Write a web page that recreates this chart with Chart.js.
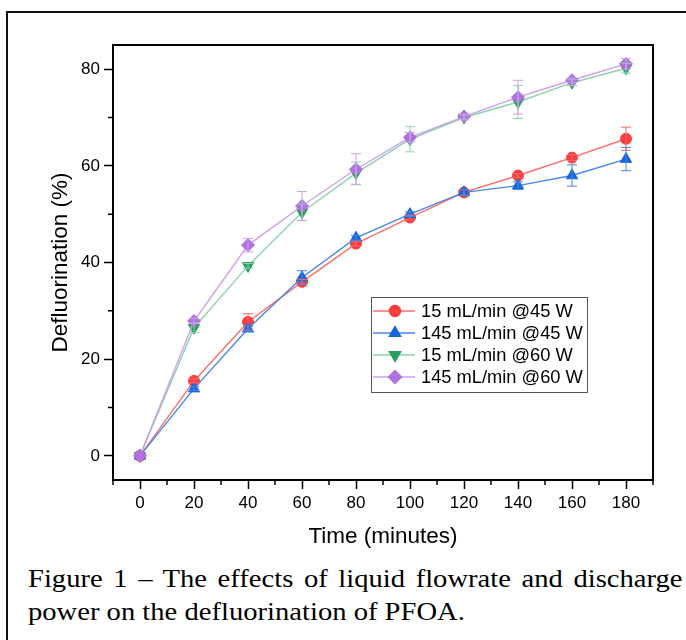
<!DOCTYPE html>
<html>
<head>
<meta charset="utf-8">
<script src="https://cdn.jsdelivr.net/npm/chart.js@4.4.0/dist/chart.umd.min.js"></script>
<style>
  html, body { margin: 0; padding: 0; background: #fff; }
  body { width: 686px; height: 640px; overflow: hidden; position: relative; }
  .frame {
    position: absolute; left: 6px; top: 11px; width: 720px; height: 700px;
    border: 2px solid #111; box-sizing: border-box;
  }
  .chart-box { position: absolute; left: 0; top: 0; width: 686px; height: 560px; }
  .caption {
    position: absolute; left: 28px; top: 562px; width: 595px;
    font-family: "Liberation Serif", "Times New Roman", serif;
    font-size: 26px; line-height: 33px; color: #000;
    text-align: justify; transform: scaleX(1.1); transform-origin: 0 0;
  }
</style>
</head>
<body>
<div class="frame"></div>
<div class="chart-box"><canvas id="defluorChart" width="686" height="560"></canvas></div>
<div class="caption">Figure 1 – The effects of liquid flowrate and discharge power on the defluorination of PFOA.</div>

<script>
//========================
// Data
//========================
const timeMinutes = [0, 20, 40, 60, 80, 100, 120, 140, 160, 180];

const seriesLabels = ['15 mL/min @45 W', '145 mL/min @45 W', '15 mL/min @60 W', '145 mL/min @60 W'];

const flow15at45 = [0, 15.5, 27.7, 36.0, 43.9, 49.3, 54.5, 58.0, 61.7, 65.6];
const flow145at45 = [0, 13.9, 26.3, 36.9, 45.1, 50.0, 54.5, 55.9, 58.0, 61.4];
const flow15at60 = [0, 26.5, 39.3, 50.4, 58.5, 65.5, 70.0, 73.2, 77.2, 80.2];
const flow145at60 = [0, 27.9, 43.6, 51.7, 59.3, 65.9, 70.2, 74.2, 77.7, 81.1];

const err15at45 = [0, 0.4, 1.7, 0.5, 0.5, 0.5, 0.6, 0.4, 0.6, 2.4];
const err145at45 = [0, 0.4, 0.5, 1.4, 0.5, 0.5, 0.6, 0.8, 2.2, 2.4];
const err15at60 = [0, 1.0, 0.5, 1.7, 2.3, 2.6, 0.5, 3.4, 0.6, 1.0];
const err145at60 = [0, 0.5, 1.4, 3.0, 3.2, 1.0, 0.5, 3.5, 0.5, 1.1];

const xTickValues = [0, 20, 40, 60, 80, 100, 120, 140, 160, 180];
const xMinorValues = [-10, 10, 30, 50, 70, 90, 110, 130, 150, 170, 190];
const yTickValues = [0, 20, 40, 60, 80];
const yMinorValues = [10, 30, 50, 70];

const FONT = '"Liberation Sans", Arial, sans-serif';

//========================
// Datasets
//========================
function makeSet(label, values, errors, marker, line, style, radius, rotation, order) {
  return {
    label: label,
    data: timeMinutes.map((t, i) => ({ x: t, y: values[i] })),
    errors: errors,
    borderColor: line,
    backgroundColor: marker,
    pointBackgroundColor: marker,
    pointBorderColor: marker,
    pointBorderWidth: 1,
    pointStyle: style,
    pointRadius: radius,
    pointRotation: rotation,
    borderWidth: 1.4,
    tension: 0,
    order: order
  };
}

const datasets = [
  makeSet(seriesLabels[0], flow15at45, err15at45, '#f83e3e', '#ff6b6b', 'circle', 5.5, 0, 3),
  makeSet(seriesLabels[1], flow145at45, err145at45, '#1766d9', '#4589e6', 'triangle', 6.5, 0, 2),
  makeSet(seriesLabels[2], flow15at60, err15at60, '#2a9f5e', '#8dd3a9', 'triangle', 6.5, 180, 1),
  makeSet(seriesLabels[3], flow145at60, err145at60, '#b26fe0', '#cc9ff0', 'rectRot', 6.5, 0, 0)
];

//========================
// Plugins
//========================
const errorBars = {
  id: 'errorBars',
  afterDatasetsDraw(chart) {
    const ctx = chart.ctx;
    const y = chart.scales.y;
    ctx.save();
    ctx.lineWidth = 1;
    chart.data.datasets.forEach((ds, di) => {
      const meta = chart.getDatasetMeta(di);
      ctx.strokeStyle = ds.borderColor;
      meta.data.forEach((pt, i) => {
        const e = ds.errors[i];
        if (!e) return;
        const top = y.getPixelForValue(ds.data[i].y + e);
        const bot = y.getPixelForValue(ds.data[i].y - e);
        ctx.beginPath();
        ctx.moveTo(pt.x, top); ctx.lineTo(pt.x, bot);
        ctx.moveTo(pt.x - 5, top); ctx.lineTo(pt.x + 5, top);
        ctx.moveTo(pt.x - 5, bot); ctx.lineTo(pt.x + 5, bot);
        ctx.stroke();
      });
    });
    ctx.restore();
  }
};

const frameAndMinor = {
  id: 'frameAndMinor',
  afterDraw(chart) {
    const { ctx, chartArea: a, scales } = chart;
    ctx.save();
    ctx.strokeStyle = '#000';
    ctx.lineWidth = 2;
    ctx.strokeRect(a.left, a.top, a.right - a.left, a.bottom - a.top);
    ctx.lineWidth = 1.5;
    ctx.beginPath();
    xMinorValues.forEach(v => {
      const px = scales.x.getPixelForValue(v);
      ctx.moveTo(px, a.bottom); ctx.lineTo(px, a.bottom + 5);
    });
    yMinorValues.forEach(v => {
      const py = scales.y.getPixelForValue(v);
      ctx.moveTo(a.left, py); ctx.lineTo(a.left - 5, py);
    });
    ctx.stroke();
    ctx.restore();
  }
};

const boxLegend = {
  id: 'boxLegend',
  afterDraw(chart) {
    const ctx = chart.ctx;
    const left = 371, top = 297, w = 216, h = 95;
    ctx.save();
    ctx.fillStyle = '#fff';
    ctx.fillRect(left, top, w, h);
    ctx.strokeStyle = '#555';
    ctx.lineWidth = 1;
    ctx.strokeRect(left + 0.5, top + 0.5, w, h);
    ctx.font = '18.3px ' + FONT;
    ctx.textBaseline = 'middle';
    chart.data.datasets.forEach((ds, i) => {
      const cy = top + 14 + i * 22;
      ctx.strokeStyle = ds.borderColor;
      ctx.lineWidth = 1.4;
      ctx.beginPath();
      ctx.moveTo(left + 2, cy); ctx.lineTo(left + 44, cy);
      ctx.stroke();
      ctx.fillStyle = ds.pointBackgroundColor;
      ctx.strokeStyle = ds.pointBorderColor;
      Chart.helpers.drawPoint(ctx, {
        pointStyle: ds.pointStyle, radius: ds.pointRadius,
        rotation: ds.pointRotation, borderWidth: 1
      }, left + 24, cy);
      ctx.fillStyle = '#000';
      ctx.fillText(ds.label, left + 50, cy + 1);
    });
    ctx.restore();
  }
};

//========================
// Chart
//========================
new Chart(document.getElementById('defluorChart'), {
  type: 'line',
  data: { datasets: datasets },
  options: {
    responsive: false,
    animation: false,
    layout: { padding: { left: 0, right: 33, top: 45, bottom: 0 } },
    plugins: { legend: { display: false }, tooltip: { enabled: false } },
    scales: {
      x: {
        type: 'linear', min: -10, max: 190,
        afterBuildTicks: s => { s.ticks = xTickValues.map(v => ({ value: v })); },
        afterFit: s => { s.height = 80; },
        grid: { drawOnChartArea: false, tickLength: 9, tickWidth: 1.5, tickColor: '#000' },
        border: { color: '#000', width: 2 },
        ticks: { color: '#000', padding: 4, maxRotation: 0, autoSkip: false, font: { family: FONT, size: 17 } },
        title: { display: true, text: 'Time (minutes)', color: '#000', padding: { top: 0, bottom: 10 }, font: { family: FONT, size: 22.5 } }
      },
      y: {
        min: -5, max: 85,
        afterBuildTicks: s => { s.ticks = yTickValues.map(v => ({ value: v })); },
        afterFit: s => { s.width = 113; },
        grid: { drawOnChartArea: false, tickLength: 9, tickWidth: 1.5, tickColor: '#000' },
        border: { color: '#000', width: 2 },
        ticks: { color: '#000', padding: 4, autoSkip: false, font: { family: FONT, size: 17 } },
        title: { display: true, text: 'Defluorination (%)', color: '#000', padding: { top: 47, bottom: 0 }, font: { family: FONT, size: 22.5 } }
      }
    }
  },
  plugins: [errorBars, frameAndMinor, boxLegend]
});
</script>
</body>
</html>
